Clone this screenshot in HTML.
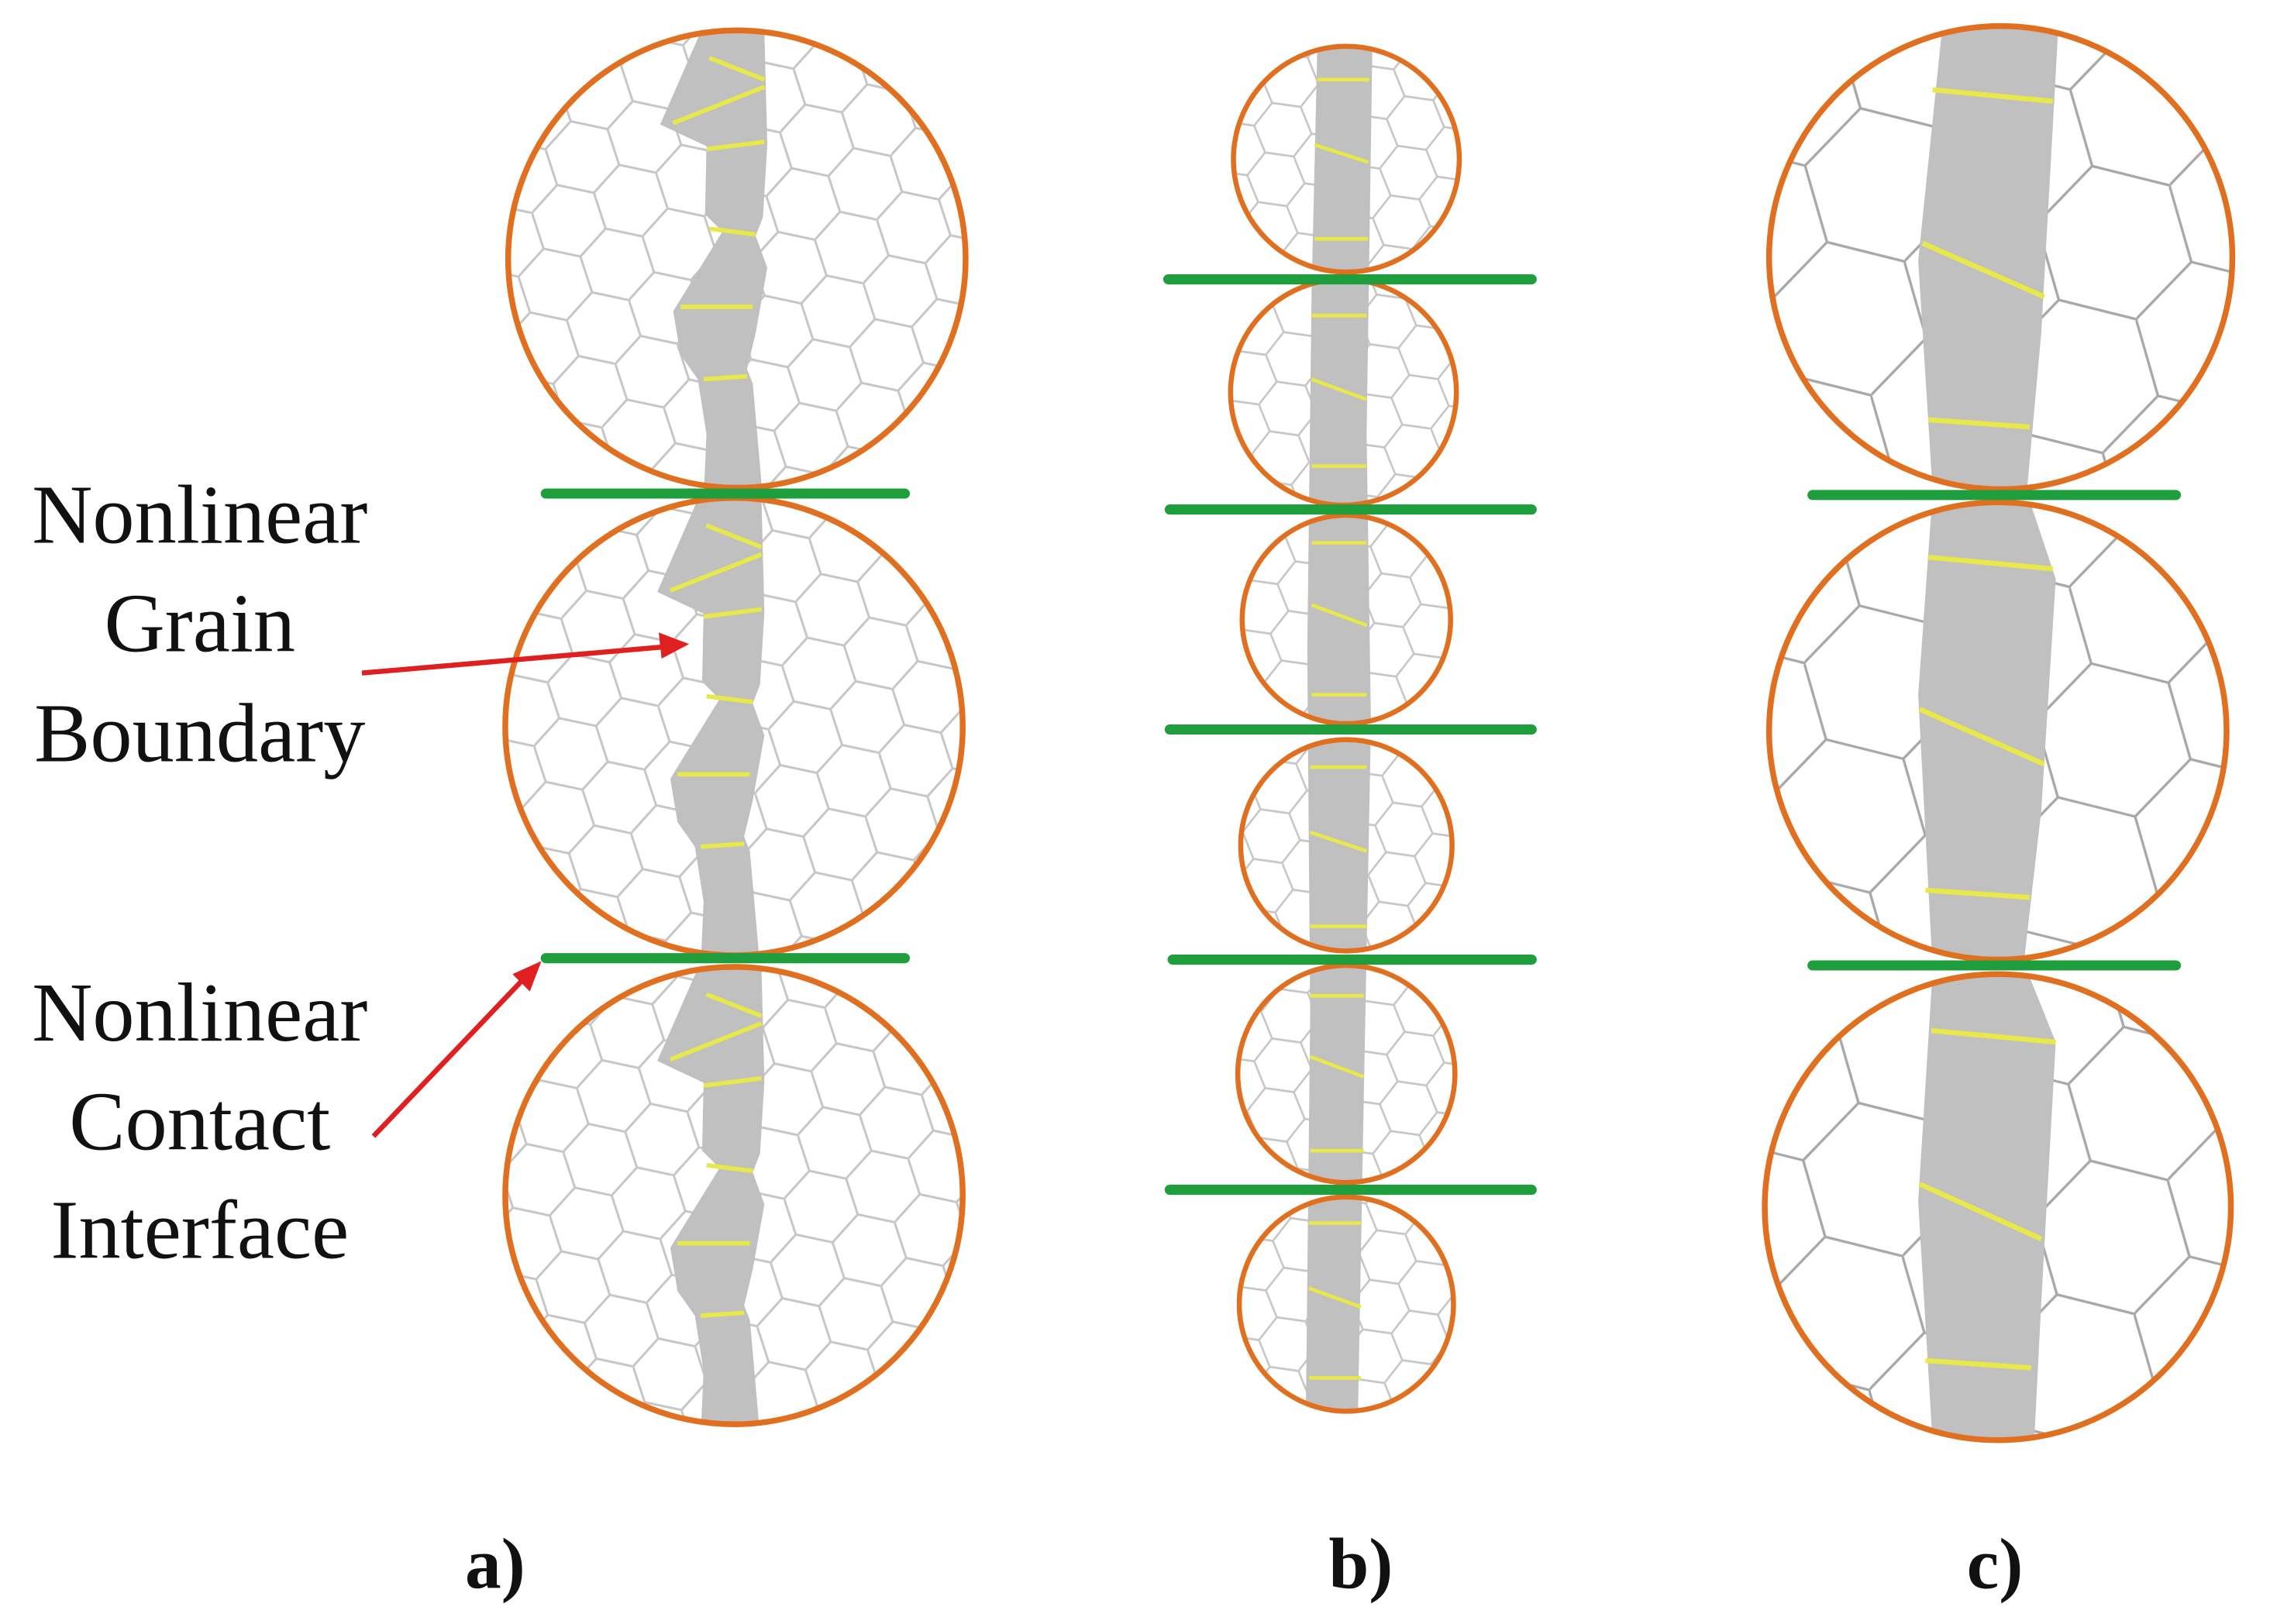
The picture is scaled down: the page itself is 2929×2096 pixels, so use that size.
<!DOCTYPE html>
<html><head><meta charset="utf-8"><style>html,body{margin:0;padding:0;background:#fff}svg{display:block}</style></head>
<body>
<svg width="2929" height="2096" viewBox="0 0 1568 1122" preserveAspectRatio="none" xmlns="http://www.w3.org/2000/svg">
<defs>
<pattern id="ha" width="78" height="45" patternUnits="userSpaceOnUse" patternTransform="rotate(12)">
<path d="M0,22.5 L13,0 L39,0 L52,22.5 L39,45 L13,45 Z M52,22.5 L78,22.5" fill="none" stroke="#c6c6c6" stroke-width="1.6"/></pattern>
<pattern id="hb" width="60" height="34.6" patternUnits="userSpaceOnUse" patternTransform="rotate(8)">
<path d="M0,17.3 L10,0 L30,0 L40,17.3 L30,34.6 L10,34.6 Z M40,17.3 L60,17.3" fill="none" stroke="#c6c6c6" stroke-width="1.4"/></pattern>
<pattern id="hc" width="165" height="95.3" patternUnits="userSpaceOnUse" patternTransform="rotate(14)">
<path d="M0,47.6 L27.5,0 L82.5,0 L110,47.6 L82.5,95.3 L27.5,95.3 Z M110,47.6 L165,47.6" fill="none" stroke="#a8a8a8" stroke-width="1.8"/></pattern>
<clipPath id="ca"><circle cx="509" cy="179" r="158"/><circle cx="507" cy="502" r="158"/><circle cx="507" cy="826" r="158"/></clipPath>
<clipPath id="cb"><circle cx="930" cy="110" r="78"/><circle cx="928" cy="271" r="78"/><circle cx="930" cy="428" r="72"/><circle cx="930" cy="584" r="73"/><circle cx="930" cy="742" r="75"/><circle cx="930" cy="901" r="74"/></clipPath>
<clipPath id="cc"><circle cx="1382" cy="178" r="160"/><circle cx="1380" cy="505" r="158"/><circle cx="1380" cy="834" r="161"/></clipPath>
<g id="gseg"><polygon fill="#c0c0c0" points="484,22 456,86 488,101 487,148 499,160 465,215 470,245 482,262 488,300 486,345 527,345 520,265 516,255 522,230 530,185 522,163 527,150 530,100 528,22"/>
<g stroke="#e8e84a" stroke-width="3"><line x1="490" y1="40" x2="528" y2="55"/><line x1="465" y1="85" x2="528" y2="60"/><line x1="488" y1="103" x2="528" y2="98"/><line x1="490" y1="158" x2="522" y2="162"/><line x1="470" y1="212" x2="520" y2="212"/><line x1="486" y1="262" x2="516" y2="260"/></g></g>
</defs>
<rect width="1568" height="1122" fill="#fff"/>
<g clip-path="url(#ca)"><rect x="340" y="10" width="340" height="990" fill="url(#ha)"/>
<use href="#gseg"/><use href="#gseg" transform="translate(-2,323)"/><use href="#gseg" transform="translate(-2,647)"/></g>
<g fill="none" stroke="#e07020" stroke-width="4"><circle cx="509" cy="179" r="158"/><circle cx="507" cy="502" r="158"/><circle cx="507" cy="826" r="158"/></g>
<g stroke="#1f9e3e" stroke-width="7" stroke-linecap="round"><line x1="377" y1="341" x2="625" y2="341"/><line x1="377" y1="662" x2="625" y2="662"/></g>
<g clip-path="url(#cb)"><rect x="840" y="20" width="180" height="970" fill="url(#hb)"/>
<polygon fill="#c0c0c0" points="910,30 948,30 944,300 947,500 942,760 938,978 902,978 905,700 903,450 906,200"/>
<g stroke="#e8e84a" stroke-width="2.5"><line x1="910" y1="55" x2="946" y2="55"/><line x1="908" y1="100" x2="945" y2="112"/><line x1="908" y1="165" x2="945" y2="165"/><line x1="906" y1="218" x2="944" y2="218"/><line x1="906" y1="262" x2="944" y2="276"/><line x1="906" y1="322" x2="944" y2="322"/><line x1="906" y1="375" x2="944" y2="375"/><line x1="906" y1="418" x2="944" y2="432"/><line x1="906" y1="480" x2="944" y2="480"/><line x1="905" y1="530" x2="944" y2="530"/><line x1="905" y1="575" x2="944" y2="588"/><line x1="905" y1="640" x2="944" y2="640"/><line x1="905" y1="688" x2="942" y2="688"/><line x1="905" y1="730" x2="942" y2="744"/><line x1="905" y1="795" x2="942" y2="795"/><line x1="904" y1="845" x2="940" y2="845"/><line x1="904" y1="890" x2="940" y2="903"/><line x1="904" y1="952" x2="940" y2="952"/></g></g>
<g fill="none" stroke="#e07020" stroke-width="3.5"><circle cx="930" cy="110" r="78"/><circle cx="928" cy="271" r="78"/><circle cx="930" cy="428" r="72"/><circle cx="930" cy="584" r="73"/><circle cx="930" cy="742" r="75"/><circle cx="930" cy="901" r="74"/></g>
<g stroke="#1f9e3e" stroke-width="7" stroke-linecap="round"><line x1="807" y1="193" x2="1058" y2="193"/><line x1="808" y1="352" x2="1058" y2="352"/><line x1="808" y1="504" x2="1058" y2="504"/><line x1="810" y1="663" x2="1058" y2="663"/><line x1="808" y1="822" x2="1058" y2="822"/></g>
<g clip-path="url(#cc)"><rect x="1210" y="10" width="340" height="1000" fill="url(#hc)"/>
<polygon fill="#c0c0c0" points="1342,15 1422,15 1410,230 1400,340 1420,400 1410,560 1398,665 1420,720 1410,900 1405,998 1335,998 1325,830 1335,670 1325,480 1335,340 1325,180"/>
<g stroke="#e8e84a" stroke-width="3.5"><line x1="1335" y1="62" x2="1418" y2="70"/><line x1="1328" y1="168" x2="1412" y2="205"/><line x1="1332" y1="290" x2="1402" y2="295"/><line x1="1332" y1="385" x2="1418" y2="393"/><line x1="1326" y1="490" x2="1412" y2="528"/><line x1="1330" y1="615" x2="1402" y2="620"/><line x1="1334" y1="712" x2="1420" y2="720"/><line x1="1326" y1="818" x2="1410" y2="856"/><line x1="1330" y1="940" x2="1403" y2="945"/></g></g>
<g fill="none" stroke="#e07020" stroke-width="4"><circle cx="1382" cy="178" r="160"/><circle cx="1380" cy="505" r="158"/><circle cx="1380" cy="834" r="161"/></g>
<g stroke="#1f9e3e" stroke-width="7" stroke-linecap="round"><line x1="1252" y1="342" x2="1503" y2="342"/><line x1="1252" y1="667" x2="1503" y2="667"/></g>
<g font-family="Liberation Serif, serif" font-size="58" fill="#111" text-anchor="middle">
<text x="138" y="375">Nonlinear</text><text x="138" y="450">Grain</text><text x="138" y="526">Boundary</text>
<text x="138" y="719">Nonlinear</text><text x="138" y="794">Contact</text><text x="138" y="869">Interface</text>
</g>
<g font-family="Liberation Serif, serif" font-size="50" font-weight="bold" fill="#111" text-anchor="middle">
<text x="342" y="1097">a)</text><text x="940" y="1097">b)</text><text x="1378" y="1097">c)</text></g>
<g stroke="#e02020" stroke-width="3.5" fill="#e02020">
<line x1="250" y1="465" x2="458" y2="447"/><polygon points="476,445 455,437 457,455" stroke="none"/>
<line x1="258" y1="785" x2="362" y2="676"/><polygon points="374,664 354,673 366,685" stroke="none"/></g>
</svg>
</body></html>
